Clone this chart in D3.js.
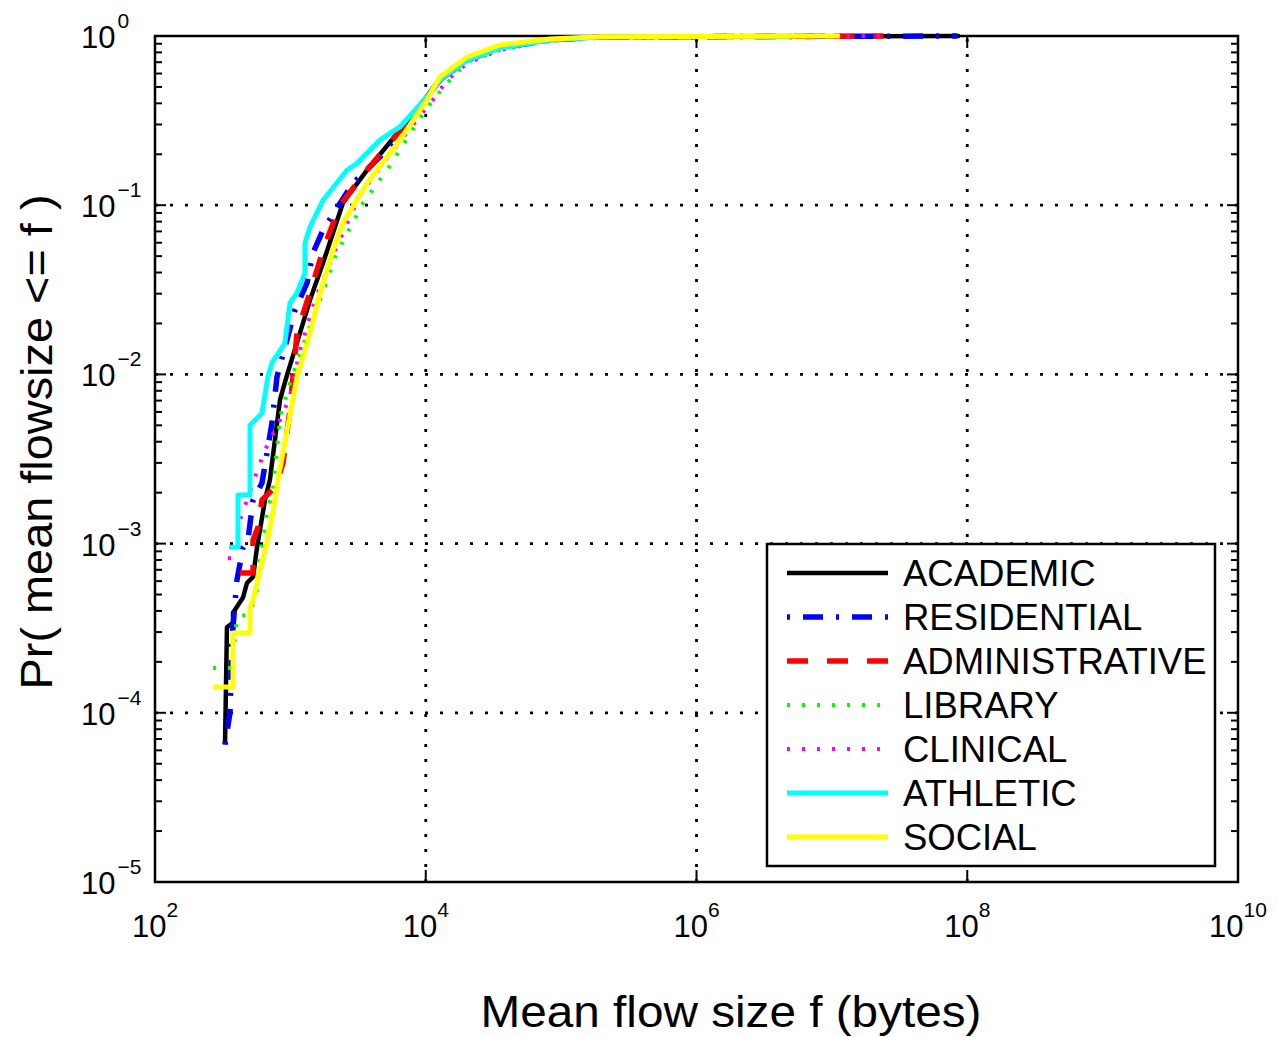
<!DOCTYPE html>
<html><head><meta charset="utf-8">
<script src="https://cdn.jsdelivr.net/npm/d3@7"></script>
<style>body{margin:0;background:#fff} text{font-family:"Liberation Sans",Arial,Helvetica,sans-serif;fill:#000}</style>
</head><body><svg id="c" width="1277" height="1037"></svg>
<script>
const categories = ["ACADEMIC","RESIDENTIAL","ADMINISTRATIVE","LIBRARY","CLINICAL","ATHLETIC","SOCIAL"];
const xTickExponents = [2,4,6,8,10];
const yTickExponents = [0,-1,-2,-3,-4,-5];
const xTitle = "Mean flow size f (bytes)";
const yTitle = "Pr( mean flowsize <= f )";

const academic = [[329,6.5e-5],[340,3.2e-4],[377,3.4e-4],[377,3.9e-4],[447,4.8e-4],[478,5.85e-4],[530,6.35e-4],[567,9.5e-4],[596,1.2e-3],[649,1.81e-3],[706,2.38e-3],[838,7.06e-3],[944,9.9e-3],[1178,0.0176],[1396,0.0275],[1742,0.0455],[2444,0.103],[3680,0.161],[6441,0.278],[10200,0.436],[12700,0.56],[20200,0.74],[35300,0.87],[82600,0.947],[194000,0.987],[8.8e7,1]];
const residential = [[329,6.5e-5],[358,1.0e-4],[370,2.7e-4],[403,6.1e-4],[447,9.5e-4],[486,1.05e-3],[530,1.81e-3],[617,2.28e-3],[731,5.16e-3],[796,9.66e-3],[1081,0.024],[1327,0.0347],[1469,0.0522],[1742,0.0713],[2898,0.135],[4591,0.193],[7261,0.290],[10200,0.436],[12700,0.549],[20200,0.721],[35300,0.85],[82600,0.947],[194000,0.987],[8.4e7,1]];
const administrative = [[425,6.7e-4],[530,6.7e-4],[530,1.05e-3],[577,1.25e-3],[617,1.81e-3],[731,2.07e-3],[809,2.38e-3],[881,2.99e-3],[993,6.16e-3],[1119,0.0176],[1469,0.0347],[1742,0.0543],[2325,0.100],[3680,0.161],[6786,0.290],[10200,0.436],[12700,0.549],[20200,0.721],[35300,0.87],[82600,0.947],[194000,0.987],[2.4e7,1]];
const library = [[268,1.84e-4],[370,1.84e-4],[403,3.63e-4],[503,3.89e-4],[567,5.32e-4],[596,7.78e-4],[671,1.52e-3],[743,2.07e-3],[838,5.6e-3],[1027,9.66e-3],[1282,0.016],[1656,0.0275],[2172,0.0508],[3438,0.103],[5167,0.161],[8616,0.306],[11300,0.419],[15100,0.549],[20200,0.702],[35300,0.827],[82600,0.94],[194000,0.985],[5.8e6,1]];
const clinical = [[346,8.2e-4],[377,8.2e-4],[425,1.38e-3],[478,1.81e-3],[548,2.48e-3],[649,3.57e-3],[838,5.37e-3],[993,7.35e-3],[1178,0.0139],[1520,0.0275],[2064,0.0508],[3266,0.115],[5723,0.212],[11300,0.419],[14400,0.549],[20200,0.692],[35300,0.827],[82600,0.94],[194000,0.985],[2.26e7,1]];
const athletic = [[352,9.5e-4],[410,9.5e-4],[410,1.94e-3],[503,1.94e-3],[503,5.0e-3],[617,5.9e-3],[683,9.7e-3],[731,0.0117],[912,0.0153],[993,0.0264],[1119,0.0303],[1282,0.0397],[1282,0.0598],[1396,0.0743],[1742,0.107],[2617,0.161],[3104,0.177],[4591,0.243],[6441,0.290],[10200,0.436],[12700,0.549],[20200,0.721],[35300,0.849],[82600,0.947],[194000,0.987],[5.0e6,1]];
const social = [[268,1.42e-4],[377,1.42e-4],[377,2.96e-4],[503,2.96e-4],[503,4.22e-4],[530,4.64e-4],[596,6.98e-4],[671,1.01e-3],[743,1.52e-3],[809,2.38e-3],[1119,9.66e-3],[1396,0.0176],[1656,0.0303],[2064,0.0543],[2444,0.0785],[3680,0.135],[6441,0.243],[10200,0.419],[12700,0.572],[20200,0.751],[35300,0.885],[82600,0.96],[194000,0.99],[1.15e7,1]];
const seriesValues = [academic, residential, administrative, library, clinical, athletic, social];

const styles = [
  {color:"#000000", w:4.5, dash:null},
  {color:"#0000ff", w:5.5, dash:"3,13,20,13"},
  {color:"#ff0000", w:5.5, dash:"21,19"},
  {color:"#00ff00", w:4,   dash:"3,12"},
  {color:"#ff00ff", w:4,   dash:"3,12"},
  {color:"#00ffff", w:5,   dash:null},
  {color:"#ffff00", w:5,   dash:null}
];

const L=155, R=1238, T=36, B=882;
const svg = d3.select("#c");
const x = d3.scaleLog().domain([1e2,1e10]).range([L,R]);
const y = d3.scaleLog().domain([1e-5,1]).range([B,T]);

svg.append("rect").attr("x",L).attr("y",T).attr("width",R-L).attr("height",B-T).attr("fill","#fff");

// grid
const gx = xTickExponents.slice(1,-1).map(e=>Math.pow(10,e));
const gy = yTickExponents.slice(1,-1).map(e=>Math.pow(10,e));
const grid = svg.append("g").attr("stroke","#000").attr("stroke-width",2.8).attr("stroke-dasharray","3,12");
grid.selectAll(".gx").data(gx).join("line").attr("x1",d=>x(d)).attr("x2",d=>x(d)).attr("y1",B).attr("y2",T);
grid.selectAll(".gy").data(gy).join("line").attr("y1",d=>y(d)).attr("y2",d=>y(d)).attr("x1",L).attr("x2",R);

// ticks
const tk = svg.append("g").attr("stroke","#000").attr("stroke-width",2);
const yAll = y.ticks();
const isMajor = v => Math.abs(Math.log10(v) - Math.round(Math.log10(v))) < 1e-6;
yAll.forEach(v=>{
  const len = isMajor(v) ? 11 : 7;
  tk.append("line").attr("x1",L).attr("x2",L+len).attr("y1",y(v)).attr("y2",y(v));
  tk.append("line").attr("x1",R).attr("x2",R-len).attr("y1",y(v)).attr("y2",y(v));
});
xTickExponents.forEach(e=>{
  const v = Math.pow(10,e);
  tk.append("line").attr("x1",x(v)).attr("x2",x(v)).attr("y1",B).attr("y2",B-12);
  tk.append("line").attr("x1",x(v)).attr("x2",x(v)).attr("y1",T).attr("y2",T+12);
});

// frame
svg.append("rect").attr("x",L).attr("y",T).attr("width",R-L).attr("height",B-T)
  .attr("fill","none").attr("stroke","#000").attr("stroke-width",2.5);

// tick labels
const fmtExp = e => (e<0 ? "\u2212"+Math.abs(e) : ""+e);
xTickExponents.forEach(e=>{
  const t = svg.append("text").attr("x",x(Math.pow(10,e))).attr("y",937)
    .attr("text-anchor","middle").attr("font-size",31);
  t.append("tspan").text("10");
  t.append("tspan").attr("dy",-20).attr("font-size",21).text(fmtExp(e));
});
yTickExponents.forEach(e=>{
  const t = svg.append("text").attr("x",81).attr("y",y(Math.pow(10,e))+12)
    .attr("font-size",31);
  t.append("tspan").text("10");
  t.append("tspan").attr("dx",2).attr("dy",-20).attr("font-size",21).text(fmtExp(e));
});

// curves
const line = d3.line().x(d=>x(d[0])).y(d=>y(d[1]));
seriesValues.forEach((s,i)=>{
  const st = styles[i];
  svg.append("path").attr("d",line(s)).attr("fill","none")
    .attr("stroke",st.color).attr("stroke-width",st.w)
    .attr("stroke-dasharray",st.dash).attr("stroke-linejoin","round");
});

// titles
svg.append("text").attr("x",731).attr("y",1027).attr("text-anchor","middle")
  .attr("font-size",44).attr("textLength",501).attr("lengthAdjust","spacingAndGlyphs").text(xTitle);
svg.append("text").attr("transform","translate(52,442) rotate(-90)").attr("text-anchor","middle")
  .attr("font-size",44).attr("textLength",495).attr("lengthAdjust","spacingAndGlyphs").text(yTitle);

// legend
const lg = svg.append("g");
lg.append("rect").attr("x",767).attr("y",544).attr("width",448).attr("height",322)
  .attr("fill","#fff").attr("stroke","#000").attr("stroke-width",2.5);
categories.forEach((c,i)=>{
  const cy = 573 + i*44;
  const st = styles[i];
  lg.append("line").attr("x1",787).attr("x2",888).attr("y1",cy).attr("y2",cy)
    .attr("stroke",st.color).attr("stroke-width",st.w).attr("stroke-dasharray",st.dash);
  lg.append("text").attr("x",903).attr("y",cy+13).attr("font-size",36.5).text(c);
});
</script></body></html>
